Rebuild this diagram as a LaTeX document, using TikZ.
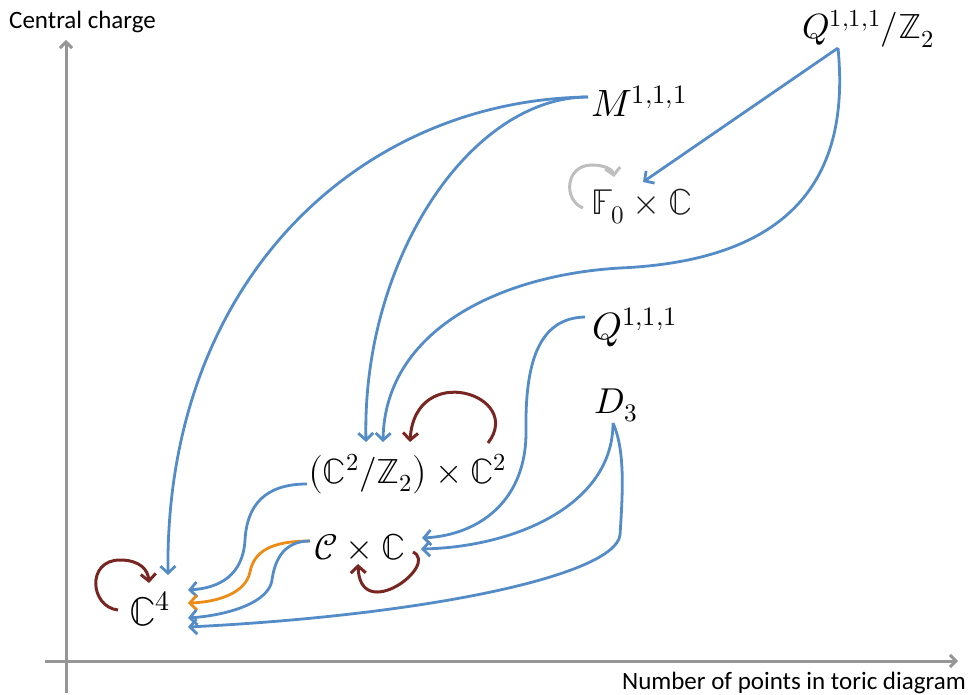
\documentclass[tikz,border=0pt]{standalone}
\usepackage{fontspec,amsmath,unicode-math}
\setsansfont{Carlito}
\usetikzlibrary{arrows.meta,calc}
\definecolor{flowblue}{RGB}{84,140,200}
\definecolor{selfred}{RGB}{120,38,34}
\definecolor{floworange}{RGB}{236,140,22}
\definecolor{axisgray}{RGB}{150,150,150}
\definecolor{loopgray}{RGB}{190,190,190}
\tikzset{
 cone/.style={inner sep=0pt,anchor=base west,font=\fontsize{36}{40}\selectfont},
 axislabel/.style={font=\sffamily\fontsize{25}{30}\selectfont,inner sep=0pt},
 axisline/.style={axisgray,line width=3pt,-{Straight Barb[length=6pt,width=12pt]}},
 flow/.style={flowblue,line width=2.8pt,-{Straight Barb[length=7pt,width=15pt]}},
 selfmap/.style={selfred,line width=3pt,-{Straight Barb[length=7pt,width=15pt]}},
}
\begin{document}
\begin{tikzpicture}[x=1pt,y=-1pt]
 \useasboundingbox (0,0) rectangle (970,695);
 \draw[axisline] (66,693)--(66,40);
 \draw[axisline] (45,661)--(958,661);
 \node[axislabel,anchor=west] (ylab) at (9,22) {Central charge};
 \node[axislabel,anchor=east] (xlab) at (966,683) {Number of points in toric diagram};
 \node[cone,font=\fontsize{35}{40}\selectfont] (q2) at (802,39) {$Q^{1,1,1}/\mathbb{Z}_2$};
 \node[cone,font=\fontsize{38}{42}\selectfont] (m) at (591,117) {$M^{1,1,1}$};
 \node[cone,text=black!90] (f0) at (591,215) {$\mathbb{F}_{\mkern-1mu 0}\times\mathbb{C}$};
 \node[cone,font=\fontsize{38}{42}\selectfont] (q) at (592,339) {$Q^{1,1,1}$};
 \node[cone] (d3) at (594,413) {$D_3$};
 \node[cone,font=\fontsize{35}{40}\selectfont] (cz) at (308,483) {$\left(\mathbb{C}^2/\mathbb{Z}_2\right)\times\mathbb{C}^2$};
 \node[cone] (cc) at (314,559) {$\mathcal{C}\times\mathbb{C}$};
 \node[cone,font=\fontsize{40}{44}\selectfont] (c4) at (129,625) {$\mathbb{C}^4$};
 \draw[flow] ($(m.base west)+(-3,-20)$) .. controls (360,100) and (165,280) .. ($(c4.base west)+(39,-50)$);
 \draw[flow] ($(m.base west)+(-3,-20)$) .. controls (470,97) and (362,260) .. ($(cz.base west)+(58,-41)$);
 \draw[flow] ($(q2.base west)+(36,9)$) -- ($(f0.base west)+(52,-33)$);
 \draw[flow] ($(q2.base west)+(36,9)$) .. controls (850,170) and (800,260) .. (620,268)
   .. controls (500,275) and (385,330) .. ($(cz.base west)+(75,-41)$);
 \draw[flow] ($(q.base west)+(-7,-22)$) .. controls (540,318) and (525,360) .. (526,430)
   .. controls (527,500) and (480,535) .. ($(cc.base west)+(108,-21)$);
 \draw[flow] ($(d3.base west)+(19,10)$) .. controls (613,505) and (515,547) .. ($(cc.base west)+(107,-10)$);
 \draw[flow] ($(d3.base west)+(19,10)$) .. controls (625,450) and (623,490) .. (620,535)
   .. controls (615,575) and (430,615) .. ($(c4.base west)+(59,2)$);
 \draw[flow] ($(cz.base west)+(-1,1)$) .. controls (265,484) and (247,505) .. (245,540)
   .. controls (243,575) and (220,588) .. ($(c4.base west)+(59,-35)$);
 \draw[flow,floworange] ($(cc.base west)+(-4,-18)$) .. controls (270,541) and (254,552) .. (250,572)
   .. controls (246,592) and (220,602) .. ($(c4.base west)+(59,-22)$);
 \draw[flow] ($(cc.base west)+(-4,-18)$) .. controls (285,541) and (275,558) .. (272,580)
   .. controls (269,602) and (230,615) .. ($(c4.base west)+(59,-7)$);
 \draw[selfmap] ($(cz.base west)+(180,-40)$) .. controls (525,395) and (415,360) .. ($(cz.base west)+(102,-41)$);
 \draw[selfmap] ($(cc.base west)+(99,-7)$) .. controls (440,565) and (360,625) .. ($(cc.base west)+(44,5)$);
 \draw[selfmap] ($(c4.base west)+(-11,-15)$) .. controls (90,607) and (86,560) .. (120,560)
   .. controls (140,560) and (148,570) .. ($(c4.base west)+(20,-42)$);
 \draw[selfmap,loopgray] ($(f0.base west)+(-8,-7)$) .. controls (563,200) and (565,165) .. (592,165)
   .. controls (605,165) and (613,170) .. ($(f0.base west)+(23,-38)$);
\end{tikzpicture}
\end{document}
